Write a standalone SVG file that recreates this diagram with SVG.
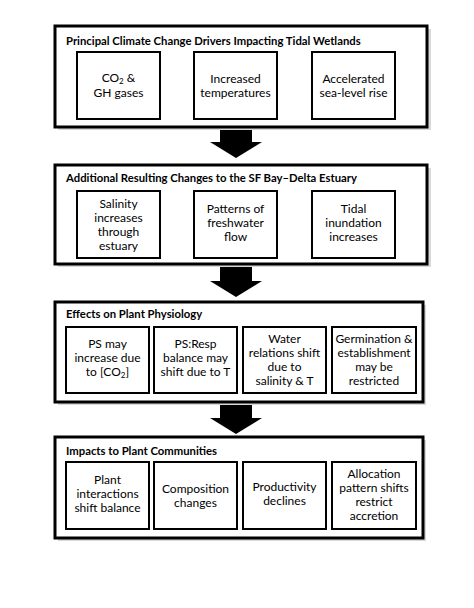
<svg xmlns="http://www.w3.org/2000/svg" width="474" height="608" viewBox="0 0 474 608">
<style>
.outer{fill:#fff;stroke:#000;stroke-width:3}
.shadow{fill:#d8d8d8}
.inner{fill:#fff;stroke:#000;stroke-width:2}
.title{font-family:Lato,"Open Sans",sans-serif;font-weight:bold;font-size:11.3px;fill:#000}
.t{font-family:Lato,"Open Sans",sans-serif;font-size:12px;fill:#000;text-anchor:middle}
.arrow{fill:#000}
</style>
<rect width="474" height="608" fill="#fff"/>
<g id="connectors">
<polygon class="arrow" points="220,127 252,127 252,142 262,142 236,158 210,142 220,142"/>
<polygon class="arrow" points="220,264 252,264 252,281 262,281 236,297 210,281 220,281"/>
<polygon class="arrow" points="220,402 252,402 252,418 262,418 236,434 210,418 220,418"/>
</g>
<g id="panel1">
<rect class="shadow" x="58" y="29" width="373" height="101"/>
<rect class="outer" x="55" y="26" width="372" height="101"/>
<text class="title" x="66" y="45">Principal Climate Change Drivers Impacting Tidal Wetlands</text>
<g id="p1n1"><rect class="inner" x="77" y="52" width="83" height="67"/>
<text class="t" x="118.5" y="82">CO<tspan font-size="8" dy="2">2</tspan><tspan dy="-2"> &amp;</tspan></text>
<text class="t" x="118.5" y="97">GH gases</text></g>
<g id="p1n2"><rect class="inner" x="194" y="52" width="83" height="67"/>
<text class="t" x="235.5" y="83">Increased</text>
<text class="t" x="235.5" y="97">temperatures</text></g>
<g id="p1n3"><rect class="inner" x="312" y="52" width="83" height="67"/>
<text class="t" x="353.5" y="83">Accelerated</text>
<text class="t" x="353.5" y="97">sea-level rise</text></g>
</g>
<g id="panel2">
<rect class="shadow" x="58" y="168" width="373" height="99"/>
<rect class="outer" x="55" y="165" width="372" height="99"/>
<text class="title" x="66" y="182">Additional Resulting Changes to the SF Bay–Delta Estuary</text>
<g id="p2n1"><rect class="inner" x="77" y="191" width="83" height="67"/>
<text class="t" x="118.5" y="208">Salinity</text>
<text class="t" x="118.5" y="222">increases</text>
<text class="t" x="118.5" y="236">through</text>
<text class="t" x="118.5" y="250">estuary</text></g>
<g id="p2n2"><rect class="inner" x="194" y="191" width="83" height="67"/>
<text class="t" x="235.5" y="213">Patterns of</text>
<text class="t" x="235.5" y="227">freshwater</text>
<text class="t" x="235.5" y="241">flow</text></g>
<g id="p2n3"><rect class="inner" x="312" y="191" width="83" height="67"/>
<text class="t" x="353.5" y="213">Tidal</text>
<text class="t" x="353.5" y="227">inundation</text>
<text class="t" x="353.5" y="241">increases</text></g>
</g>
<g id="panel3">
<rect class="shadow" x="58" y="305" width="368" height="100"/>
<rect class="outer" x="55" y="302" width="368" height="100"/>
<text class="title" x="66" y="318">Effects on Plant Physiology</text>
<g id="p3n1"><rect class="inner" x="66" y="327" width="83" height="66"/>
<text class="t" x="107.5" y="348">PS may</text>
<text class="t" x="107.5" y="362">increase due</text>
<text class="t" x="107.5" y="376">to [CO<tspan font-size="8" dy="2">2</tspan><tspan dy="-2">]</tspan></text></g>
<g id="p3n2"><rect class="inner" x="154" y="327" width="83" height="66"/>
<text class="t" x="195.5" y="348">PS:Resp</text>
<text class="t" x="195.5" y="362">balance may</text>
<text class="t" x="195.5" y="376">shift due to T</text></g>
<g id="p3n3"><rect class="inner" x="243" y="327" width="83" height="66"/>
<text class="t" x="284.5" y="343">Water</text>
<text class="t" x="284.5" y="357">relations shift</text>
<text class="t" x="284.5" y="371">due to</text>
<text class="t" x="284.5" y="385">salinity &amp; T</text></g>
<g id="p3n4"><rect class="inner" x="332" y="327" width="84" height="66"/>
<text class="t" x="374" y="343">Germination &amp;</text>
<text class="t" x="374" y="357">establishment</text>
<text class="t" x="374" y="371">may be</text>
<text class="t" x="374" y="385">restricted</text></g>
</g>
<g id="panel4">
<rect class="shadow" x="58" y="440" width="368" height="101"/>
<rect class="outer" x="55" y="437" width="368" height="101"/>
<text class="title" x="66" y="455">Impacts to Plant Communities</text>
<g id="p4n1"><rect class="inner" x="66" y="462" width="83" height="67"/>
<text class="t" x="107.5" y="484">Plant</text>
<text class="t" x="107.5" y="498">interactions</text>
<text class="t" x="107.5" y="512">shift balance</text></g>
<g id="p4n2"><rect class="inner" x="154" y="462" width="83" height="67"/>
<text class="t" x="195.5" y="493">Composition</text>
<text class="t" x="195.5" y="507">changes</text></g>
<g id="p4n3"><rect class="inner" x="243" y="462" width="83" height="67"/>
<text class="t" x="284.5" y="491">Productivity</text>
<text class="t" x="284.5" y="505">declines</text></g>
<g id="p4n4"><rect class="inner" x="332" y="462" width="84" height="67"/>
<text class="t" x="374" y="478">Allocation</text>
<text class="t" x="374" y="492">pattern shifts</text>
<text class="t" x="374" y="506">restrict</text>
<text class="t" x="374" y="520">accretion</text></g>
</g>
</svg>
